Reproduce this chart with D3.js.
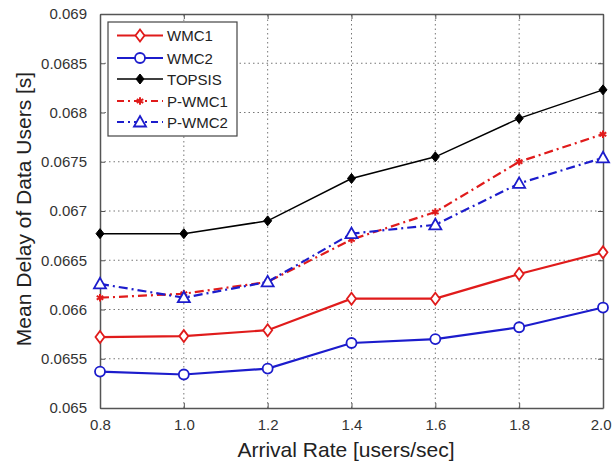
<!DOCTYPE html>
<html>
<head>
<meta charset="utf-8">
<script src="https://cdn.jsdelivr.net/npm/d3@7"></script>
<style>
  body { margin: 0; background: #fff; }
  svg { font-family: "Liberation Sans", Arial, sans-serif; }
</style>
</head>
<body>
<div id="page"></div>
<script>
var arrivalRates = [0.8, 1.0, 1.2, 1.4, 1.6, 1.8, 2.0];
var wmc1   = [0.06572, 0.06573, 0.06579, 0.06611, 0.06611, 0.06636, 0.06658];
var wmc2   = [0.06537, 0.06534, 0.06540, 0.06566, 0.06570, 0.06582, 0.06602];
var topsis = [0.06677, 0.06677, 0.06690, 0.06733, 0.06755, 0.06794, 0.06823];
var pWmc1  = [0.06612, 0.06616, 0.06628, 0.06671, 0.06699, 0.06750, 0.06778];
var pWmc2  = [0.06626, 0.06612, 0.06628, 0.06677, 0.06686, 0.06728, 0.06754];
var yTicks = [0.065, 0.0655, 0.066, 0.0665, 0.067, 0.0675, 0.068, 0.0685, 0.069];
var xTickLabels = ["0.8", "1.0", "1.2", "1.4", "1.6", "1.8", "2.0"];

var series = [
  {name: "WMC1", values: wmc1, color: "#e01b1b", dash: null, marker: "diamond"},
  {name: "WMC2", values: wmc2, color: "#1c1ccc", dash: null, marker: "circle"},
  {name: "TOPSIS", values: topsis, color: "#000000", dash: null, marker: "filled"},
  {name: "P-WMC1", values: pWmc1, color: "#e01b1b", dash: "9,4,2,4", marker: "star"},
  {name: "P-WMC2", values: pWmc2, color: "#1c1ccc", dash: "9,4,2,4", marker: "triangle"}
];

var width = 612, height = 470,
    margin = {left: 100, right: 9, top: 14, bottom: 62};

var svg = d3.select("#page").append("svg")
    .attr("width", width)
    .attr("height", height);

var x = d3.scaleLinear().domain([0.8, 2.0]).range([margin.left, width - margin.right]);
var y = d3.scaleLinear().domain([0.065, 0.069]).range([height - margin.bottom, margin.top]);

// grid
svg.append("g").selectAll("line.gx")
    .data(arrivalRates.slice(1, -1))
  .enter().append("line")
    .attr("x1", function(d) { return x(d); })
    .attr("x2", function(d) { return x(d); })
    .attr("y1", y.range()[0]).attr("y2", y.range()[1])
    .attr("stroke", "#777").attr("stroke-width", 1)
    .attr("stroke-dasharray", "1.5,3");
svg.append("g").selectAll("line.gy")
    .data(yTicks.slice(1, -1))
  .enter().append("line")
    .attr("y1", function(d) { return y(d); })
    .attr("y2", function(d) { return y(d); })
    .attr("x1", x.range()[0]).attr("x2", x.range()[1])
    .attr("stroke", "#777").attr("stroke-width", 1)
    .attr("stroke-dasharray", "1.5,3");

// axes
var xAxis = d3.axisBottom(x).tickValues(arrivalRates)
    .tickFormat(function(d, i) { return xTickLabels[i]; })
    .tickSizeInner(-5).tickSizeOuter(0).tickPadding(11);
var yAxis = d3.axisLeft(y).tickValues(yTicks)
    .tickFormat(function(d) { return String(+d.toFixed(4)); })
    .tickSizeInner(-5).tickSizeOuter(0).tickPadding(13);

var gx = svg.append("g").attr("transform", "translate(0," + y.range()[0] + ")").call(xAxis);
var gy = svg.append("g").attr("transform", "translate(" + x.range()[0] + ",0)").call(yAxis);
var gxTop = svg.append("g").attr("transform", "translate(0," + y.range()[1] + ")")
    .call(d3.axisTop(x).tickValues(arrivalRates).tickFormat("").tickSizeInner(-5).tickSizeOuter(0));
var gyRight = svg.append("g").attr("transform", "translate(" + x.range()[1] + ",0)")
    .call(d3.axisRight(y).tickValues(yTicks).tickFormat("").tickSizeInner(-5).tickSizeOuter(0));

[gx, gy, gxTop, gyRight].forEach(function(g) {
  g.select(".domain").attr("stroke", "#555").attr("stroke-width", 1.5);
  g.selectAll(".tick line").attr("stroke", "#555");
  g.selectAll(".tick text").attr("fill", "#333").style("font-size", "15px");
});

// keep the last x label inside the page
gx.selectAll(".tick text")
    .filter(function(d) { return d === arrivalRates[arrivalRates.length - 1]; })
    .attr("text-anchor", "end")
    .attr("x", 8);

// axis labels
svg.append("text")
    .attr("x", 346)
    .attr("y", 457)
    .attr("text-anchor", "middle")
    .attr("fill", "#222")
    .style("font-size", "21px")
    .text("Arrival Rate [users/sec]");
svg.append("text")
    .attr("transform", "translate(31,209) rotate(-90)")
    .attr("text-anchor", "middle")
    .attr("fill", "#222")
    .style("font-size", "21px")
    .text("Mean Delay of Data Users [s]");

var drawMarker = function(g, s, cx, cy) {
  if (s.marker === "diamond") {
    g.append("path")
      .attr("d", "M" + cx + "," + (cy - 6) + "L" + (cx + 4.5) + "," + cy + "L" + cx + "," + (cy + 6) + "L" + (cx - 4.5) + "," + cy + "Z")
      .attr("fill", "#fff").attr("stroke", s.color).attr("stroke-width", 1.8);
  } else if (s.marker === "circle") {
    g.append("circle").attr("cx", cx).attr("cy", cy).attr("r", 5)
      .attr("fill", "#fff").attr("stroke", s.color).attr("stroke-width", 1.8);
  } else if (s.marker === "filled") {
    g.append("path")
      .attr("d", "M" + cx + "," + (cy - 5) + "L" + (cx + 4) + "," + cy + "L" + cx + "," + (cy + 5) + "L" + (cx - 4) + "," + cy + "Z")
      .attr("fill", s.color).attr("stroke", s.color).attr("stroke-width", 1);
  } else if (s.marker === "star") {
    g.append("path")
      .attr("d", d3.symbol().type(d3.symbolAsterisk).size(40)())
      .attr("transform", "translate(" + cx + "," + cy + ")")
      .attr("fill", "none").attr("stroke", s.color).attr("stroke-width", 2);
  } else if (s.marker === "triangle") {
    g.append("path")
      .attr("d", "M" + cx + "," + (cy - 6) + "L" + (cx + 6) + "," + (cy + 4.5) + "L" + (cx - 6) + "," + (cy + 4.5) + "Z")
      .attr("fill", "#fff").attr("stroke", s.color).attr("stroke-width", 1.8);
  }
};

var line = d3.line()
    .x(function(d, i) { return x(arrivalRates[i]); })
    .y(function(d) { return y(d); });

series.forEach(function(s) {
  var g = svg.append("g");
  g.append("path")
    .attr("d", line(s.values))
    .attr("fill", "none")
    .attr("stroke", s.color)
    .attr("stroke-width", s.marker === "filled" ? 1.5 : 2.2)
    .attr("stroke-dasharray", s.dash);
  s.values.forEach(function(v, i) {
    drawMarker(g, s, x(arrivalRates[i]), y(v));
  });
});

// legend
var legend = svg.append("g");
legend.append("rect")
    .attr("x", 108).attr("y", 22).attr("width", 129).attr("height", 114)
    .attr("fill", "#fff").attr("stroke", "#444").attr("stroke-width", 1.2);
var rowY = [35.5, 58, 79, 101, 122];
series.forEach(function(s, i) {
  var ly = rowY[i];
  legend.append("line")
    .attr("x1", 117).attr("x2", 163).attr("y1", ly).attr("y2", ly)
    .attr("stroke", s.color).attr("stroke-width", s.marker === "filled" ? 1.5 : 2)
    .attr("stroke-dasharray", s.dash ? "7,4,2,4" : null);
  drawMarker(legend, s, 140, ly);
  legend.append("text")
    .attr("x", 167).attr("y", ly + 5.5)
    .attr("fill", "#222")
    .style("font-size", "15px")
    .text(s.name);
});
</script>
</body>
</html>
